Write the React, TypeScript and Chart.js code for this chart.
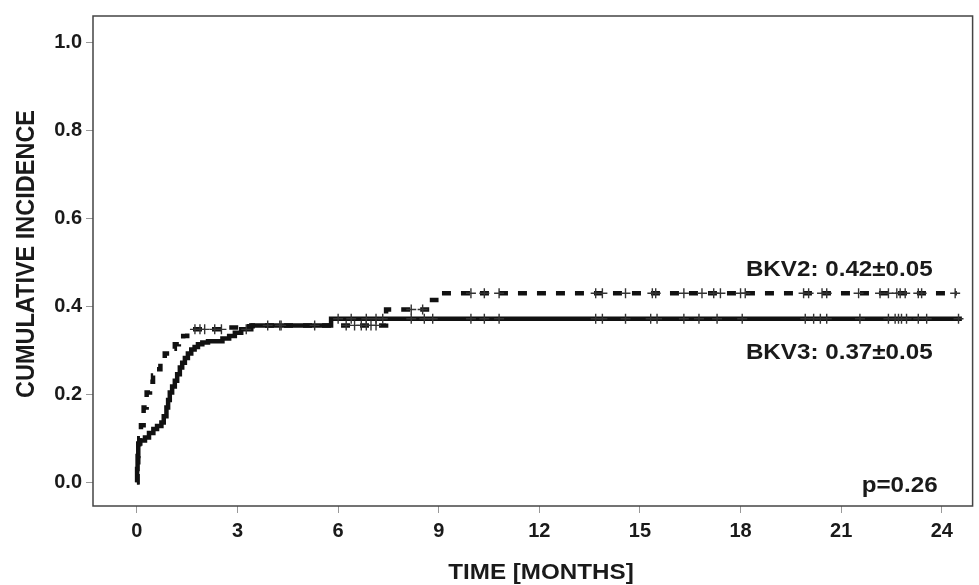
import React, { useEffect, useRef } from 'react';
import { Chart, registerables } from 'chart.js';

Chart.register(...registerables);

// ---------- data ----------
const xTicks = [0, 3, 6, 9, 12, 15, 18, 21, 24];
const yTicks = [0, 0.2, 0.4, 0.6, 0.8, 1.0];

// BKV2 (dashed) cumulative incidence step curve
const bkv2Times = [0, 0.02, 0.04, 0.07, 0.09, 0.12, 0.2, 0.29, 0.39, 0.48, 0.58, 0.7, 0.83, 0.98, 1.13, 1.25, 1.38, 1.5, 1.62, 2.62, 3.11, 3.45, 7.43, 8.8, 9.05];
const bkv2Values = [0, 0.03, 0.06, 0.1, 0.115, 0.13, 0.17, 0.204, 0.229, 0.243, 0.257, 0.275, 0.293, 0.304, 0.314, 0.324, 0.333, 0.341, 0.348, 0.352, 0.355, 0.357, 0.393, 0.415, 0.43];
const bkv2End = 24.45;
const bkv2Censored = [1.73, 1.88, 2.02, 2.32, 2.52, 3.9, 4.3, 6.24, 6.49, 6.69, 6.84, 6.98, 7.13, 8.18, 8.52, 9.96, 10.36, 10.8, 13.68, 13.88, 14.57, 15.37, 15.47, 16.31, 16.85, 17.2, 17.4, 18.0, 18.14, 19.88, 20.03, 20.43, 20.57, 21.52, 22.16, 22.41, 22.66, 22.76, 22.91, 23.3, 23.4, 24.4];

// BKV3 (solid) cumulative incidence step curve
const bkv3Times = [0, 0.005, 0.02, 0.04, 0.1, 0.24, 0.36, 0.49, 0.6, 0.73, 0.8, 0.88, 0.93, 0.98, 1.05, 1.13, 1.2, 1.28, 1.35, 1.43, 1.52, 1.62, 1.72, 1.82, 1.95, 2.12, 2.55, 2.75, 2.92, 3.11, 3.41, 5.79];
const bkv3Values = [0, 0.03, 0.06, 0.088, 0.095, 0.102, 0.112, 0.121, 0.128, 0.136, 0.15, 0.17, 0.187, 0.204, 0.218, 0.231, 0.246, 0.261, 0.272, 0.283, 0.293, 0.302, 0.308, 0.314, 0.318, 0.321, 0.327, 0.333, 0.34, 0.348, 0.357, 0.372];
const bkv3End = 24.6;
const bkv3Censored = [3.26, 4.26, 5.3, 6.0, 6.39, 6.84, 7.13, 7.33, 8.18, 8.57, 8.82, 9.96, 10.36, 10.8, 13.68, 13.88, 14.57, 15.32, 15.51, 16.31, 16.76, 17.3, 18.05, 19.93, 20.18, 20.38, 20.57, 21.56, 22.41, 22.61, 22.71, 22.8, 22.95, 23.3, 23.55, 24.5];

const bkv2Label = 'BKV2: 0.42±0.05';
const bkv3Label = 'BKV3: 0.37±0.05';
const pLabel = 'p=0.26';
const xTitle = 'TIME [MONTHS]';
const yTitle = 'CUMULATIVE INCIDENCE';

// ---------- helpers ----------
function stepValue(times: number[], values: number[], t: number) {
  let v = values[0];
  for (let i = 0; i < times.length; i++) if (times[i] <= t) v = values[i];
  return v;
}
function curve(times: number[], values: number[], end: number) {
  const pts = times.map((t, i) => ({ x: t, y: values[i] }));
  pts.push({ x: end, y: values[values.length - 1] });
  return pts;
}
function censorPts(times: number[], values: number[], cens: number[]) {
  return cens.map((t) => ({ x: t, y: stepValue(times, values, t) }));
}

const FONT = "'Liberation Sans', Arial, Helvetica, sans-serif";
const TEXT = '#1a1a1a';

const textPlugin = {
  id: 'kmText',
  afterDraw(chart: any) {
    const { ctx, chartArea, scales } = chart;
    const xs = scales.x, ys = scales.y;
    ctx.save();
    // frame
    ctx.strokeStyle = '#444';
    ctx.lineWidth = 1.5;
    ctx.strokeRect(chartArea.left, chartArea.top, chartArea.right - chartArea.left, chartArea.bottom - chartArea.top);
    ctx.fillStyle = TEXT;
    ctx.textBaseline = 'middle';
    const stretch = 1.1;
    const drawText = (txt: string, x: number, y: number, size: number, align: 'left' | 'right' | 'center') => {
      ctx.save();
      ctx.font = `bold ${size}px ${FONT}`;
      ctx.textAlign = align;
      ctx.translate(x, y);
      ctx.scale(stretch, 1);
      ctx.fillText(txt, 0, 0);
      ctx.restore();
    };
    drawText(bkv2Label, xs.getPixelForValue(23.73), ys.getPixelForValue(0.484), 22, 'right');
    drawText(bkv3Label, xs.getPixelForValue(23.73), ys.getPixelForValue(0.294), 22, 'right');
    drawText(pLabel, xs.getPixelForValue(23.88), ys.getPixelForValue(-0.009), 22, 'right');
    // x title
    drawText(xTitle, 541, 573, 22, 'center');
    // y title
    ctx.save();
    ctx.translate(27, 254);
    ctx.rotate(-Math.PI / 2);
    ctx.scale(1, stretch);
    ctx.font = `bold 23.5px ${FONT}`;
    ctx.textAlign = 'center';
    ctx.fillText(yTitle, 0, 0);
    ctx.restore();
    ctx.restore();
  },
};

export default function App() {
  const ref = useRef<HTMLCanvasElement | null>(null);
  useEffect(() => {
    document.body.style.margin = '0';
    const canvas = ref.current!;
    const chart = new Chart(canvas, {
      type: 'line',
      data: {
        datasets: [
          {
            label: 'BKV2 censored',
            data: censorPts(bkv2Times, bkv2Values, bkv2Censored),
            showLine: false,
            pointStyle: 'cross',
            pointRadius: 5,
            pointBorderWidth: 1.4,
            borderColor: '#333',
            backgroundColor: '#333',
            order: 0,
          },
          {
            label: 'BKV3 censored',
            data: censorPts(bkv3Times, bkv3Values, bkv3Censored),
            showLine: false,
            pointStyle: 'cross',
            pointRadius: 5,
            pointBorderWidth: 1.4,
            borderColor: '#333',
            backgroundColor: '#333',
            order: 0,
          },
          {
            label: 'BKV2',
            data: curve(bkv2Times, bkv2Values, bkv2End),
            stepped: 'before',
            borderColor: '#111',
            borderWidth: 4.5,
            borderDash: [9, 10],
            pointRadius: 0,
            fill: false,
            order: 1,
          },
          {
            label: 'BKV3',
            data: curve(bkv3Times, bkv3Values, bkv3End),
            stepped: 'before',
            borderColor: '#111',
            borderWidth: 4.5,
            pointRadius: 0,
            fill: false,
            order: 1,
          },
        ],
      },
      options: {
        animation: false,
        responsive: false,
        layout: { padding: { top: 13, right: 4, left: 0, bottom: 0 } },
        plugins: { legend: { display: false }, tooltip: { enabled: false } },
        scales: {
          x: {
            type: 'linear',
            min: -1.31,
            max: 24.92,
            afterBuildTicks: (s: any) => { s.ticks = xTicks.map((v) => ({ value: v })); },
            afterFit: (s: any) => { s.height = 79; },
            ticks: {
              autoSkip: false,
              maxRotation: 0,
              padding: 6,
              color: TEXT,
              font: { family: FONT, size: 20, weight: 'bold' },
              callback: (v: any) => String(v),
            },
            grid: { drawOnChartArea: false, drawTicks: true, tickLength: 7, color: '#999' },
            border: { display: false },
          },
          y: {
            type: 'linear',
            min: -0.054,
            max: 1.061,
            afterBuildTicks: (s: any) => { s.ticks = yTicks.map((v) => ({ value: v })); },
            afterFit: (s: any) => { s.width = 93; },
            ticks: {
              padding: 4,
              color: TEXT,
              font: { family: FONT, size: 20, weight: 'bold' },
              callback: (v: any) => Number(v).toFixed(1),
            },
            grid: { drawOnChartArea: false, drawTicks: true, tickLength: 7, color: '#999' },
            border: { display: false },
          },
        },
      },
      plugins: [textPlugin],
    } as any);
    return () => chart.destroy();
  }, []);
  return (
    <div style={{ width: 979, height: 585, background: '#fff' }}>
      <canvas ref={ref} width={979} height={585} style={{ display: 'block' }} />
    </div>
  );
}
